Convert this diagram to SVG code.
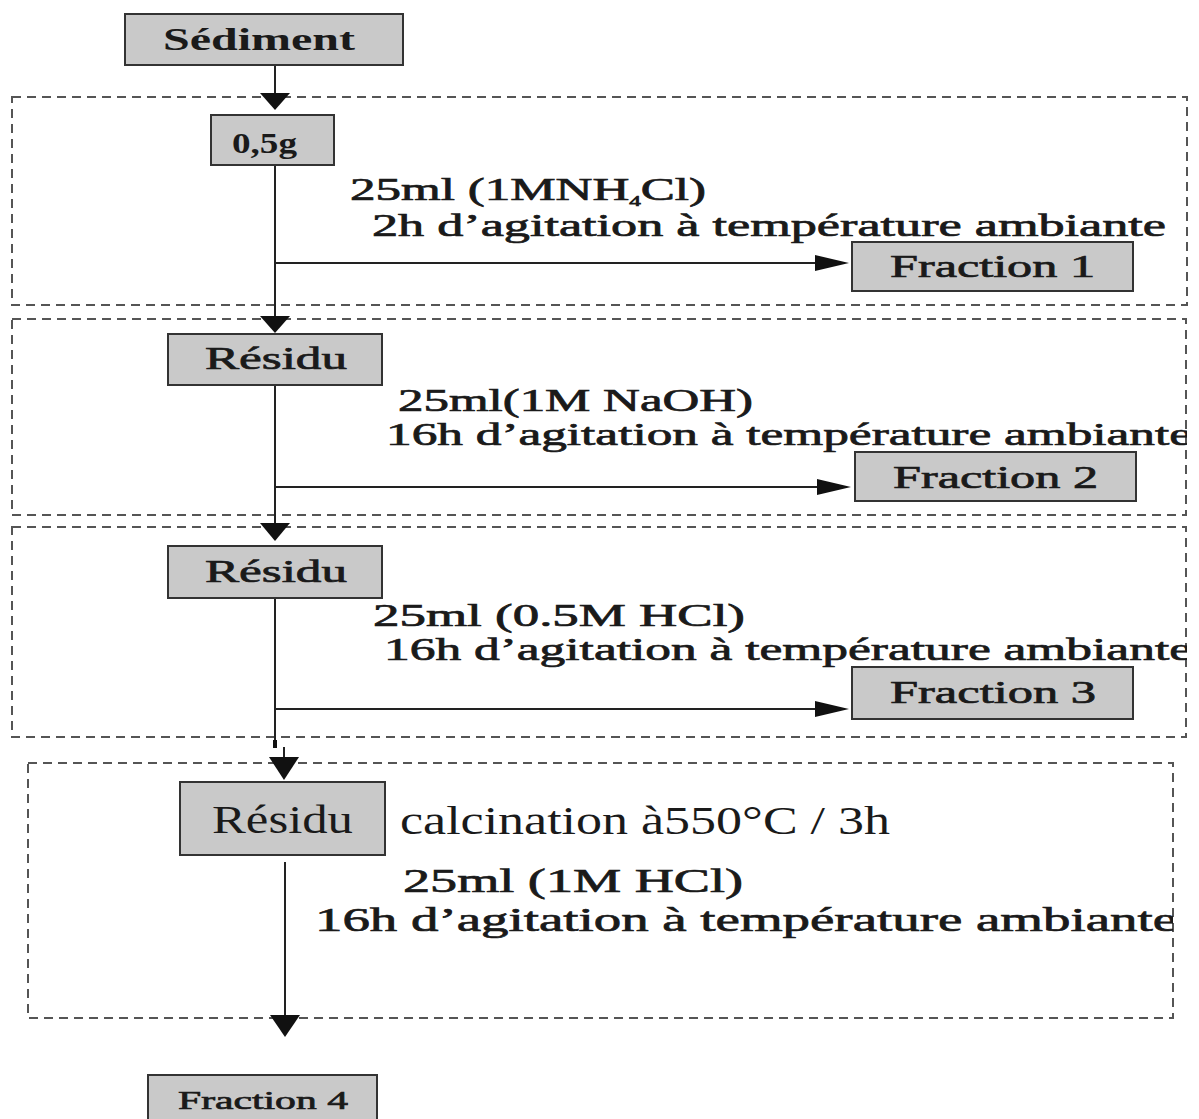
<svg xmlns="http://www.w3.org/2000/svg" width="1199" height="1119" viewBox="0 0 1199 1119">
  <style>
    .box { fill: #c9c9c9; stroke: #333; stroke-width: 2; }
    .stage { fill: none; stroke: #555; stroke-width: 2; stroke-dasharray: 9 6; }
    .wire { fill: none; stroke: #222; stroke-width: 2; }
    .head { fill: #111; }
    text { font-family: "Liberation Serif", "DejaVu Serif", serif; fill: #1a1a1a; }
    .b { font-weight: bold; }
    .m { stroke: #1a1a1a; stroke-width: 0.7; }
  </style>
  <defs>
    <clipPath id="clipInner"><rect x="0" y="0" width="1187" height="760"/></clipPath>
    <clipPath id="clipLast"><rect x="0" y="760" width="1173" height="359"/></clipPath>
  </defs>
  <rect width="1199" height="1119" fill="#ffffff"/>

  <!-- dashed stage frames -->
  <g id="stages">
    <rect class="stage" x="12" y="97" width="1175" height="208"/>
    <rect class="stage" x="12" y="319" width="1174" height="196"/>
    <rect class="stage" x="12" y="527" width="1174" height="210"/>
    <rect class="stage" x="28" y="763" width="1145" height="255"/>
  </g>

  <!-- connectors -->
  <g id="connectors">
    <line class="wire" x1="275" y1="65" x2="275" y2="95"/>
    <polygon class="head" points="260,93 290,93 275,110"/>
    <line class="wire" x1="275" y1="165" x2="275" y2="318"/>
    <polygon class="head" points="260,316 290,316 275,333"/>
    <line class="wire" x1="275" y1="263" x2="818" y2="263"/>
    <polygon class="head" points="815,255 815,271 849,263"/>
    <line class="wire" x1="275" y1="385" x2="275" y2="525"/>
    <polygon class="head" points="260,523 290,523 275,541"/>
    <line class="wire" x1="275" y1="487" x2="820" y2="487"/>
    <polygon class="head" points="817,479 817,495 851,487"/>
    <line class="wire" x1="275" y1="598" x2="275" y2="740"/>
    <line class="wire" x1="275" y1="709" x2="818" y2="709"/>
    <polygon class="head" points="815,701 815,717 849,709"/>
    <rect x="273" y="740" width="4" height="8" fill="#111"/>
    <line class="wire" x1="284" y1="747" x2="284" y2="760"/>
    <polygon class="head" points="269,757 299,757 284,780"/>
    <line class="wire" x1="285" y1="862" x2="285" y2="1017"/>
    <polygon class="head" points="270,1015 300,1015 285,1037"/>
  </g>

  <g id="sediment">
    <rect class="box" x="125" y="14" width="278" height="51"/>
    <text class="b" x="163" y="50" font-size="31" textLength="192" lengthAdjust="spacingAndGlyphs">Sédiment</text>
  </g>

  <g id="sample">
    <rect class="box" x="211" y="115" width="123" height="50"/>
    <text class="b" x="232" y="153" font-size="30" textLength="65" lengthAdjust="spacingAndGlyphs">0,5g</text>
  </g>

  <g id="step1-label">
    <text class="m" x="350" y="200" font-size="31" textLength="356" lengthAdjust="spacingAndGlyphs">25ml (1MNH<tspan font-size="14" dy="6">4</tspan><tspan dy="-6">Cl)</tspan></text>
    <text class="m" x="372" y="236" font-size="31" textLength="794" lengthAdjust="spacingAndGlyphs">2h d’agitation à température ambiante</text>
  </g>

  <g id="fraction1">
    <rect class="box" x="852" y="242" width="281" height="49"/>
    <text class="m" x="890" y="277" font-size="31" textLength="205" lengthAdjust="spacingAndGlyphs">Fraction 1</text>
  </g>

  <g id="residu1">
    <rect class="box" x="168" y="334" width="214" height="51"/>
    <text class="m" x="205" y="369" font-size="31" textLength="142" lengthAdjust="spacingAndGlyphs">Résidu</text>
  </g>

  <g id="step2-label" clip-path="url(#clipInner)">
    <text class="m" x="398" y="411" font-size="31" textLength="355" lengthAdjust="spacingAndGlyphs">25ml(1M NaOH)</text>
    <text class="m" x="386" y="445" font-size="31" textLength="806" lengthAdjust="spacingAndGlyphs">16h d’agitation à température ambiante</text>
  </g>

  <g id="fraction2">
    <rect class="box" x="855" y="452" width="281" height="49"/>
    <text class="m" x="893" y="488" font-size="31" textLength="205" lengthAdjust="spacingAndGlyphs">Fraction 2</text>
  </g>

  <g id="residu2">
    <rect class="box" x="168" y="546" width="214" height="52"/>
    <text class="m" x="205" y="582" font-size="31" textLength="142" lengthAdjust="spacingAndGlyphs">Résidu</text>
  </g>

  <g id="step3-label" clip-path="url(#clipInner)">
    <text class="m" x="373" y="626" font-size="31" textLength="372" lengthAdjust="spacingAndGlyphs">25ml (0.5M HCl)</text>
    <text class="m" x="384" y="660" font-size="31" textLength="808" lengthAdjust="spacingAndGlyphs">16h d’agitation à température ambiante</text>
  </g>

  <g id="fraction3">
    <rect class="box" x="852" y="667" width="281" height="52"/>
    <text class="m" x="890" y="703" font-size="31" textLength="206" lengthAdjust="spacingAndGlyphs">Fraction 3</text>
  </g>

  <g id="residu3">
    <rect class="box" x="180" y="782" width="205" height="73"/>
    <text x="212" y="833" font-size="40" textLength="141" lengthAdjust="spacingAndGlyphs">Résidu</text>
  </g>

  <g id="step4-label" clip-path="url(#clipLast)">
    <text x="400" y="834" font-size="40" textLength="490" lengthAdjust="spacingAndGlyphs">calcination à550°C / 3h</text>
    <text class="m" x="403" y="892" font-size="34" textLength="340" lengthAdjust="spacingAndGlyphs">25ml (1M HCl)</text>
    <text class="m" x="315" y="931" font-size="34" textLength="862" lengthAdjust="spacingAndGlyphs">16h d’agitation à température ambiante</text>
  </g>

  <g id="fraction4">
    <rect class="box" x="148" y="1075" width="229" height="50"/>
    <text class="m" x="178" y="1109" font-size="26" textLength="170" lengthAdjust="spacingAndGlyphs">Fraction 4</text>
  </g>
</svg>
